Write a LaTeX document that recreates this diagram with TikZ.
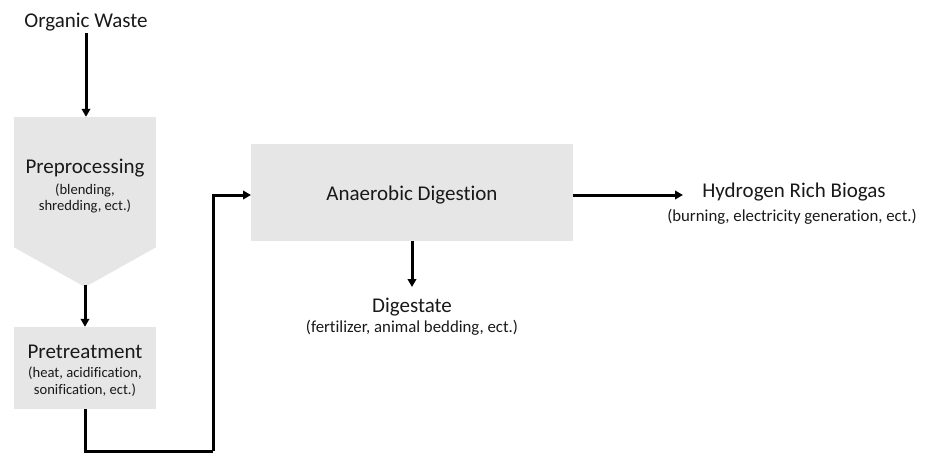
\documentclass[tikz,border=0pt]{standalone}
\usepackage{fontspec}
\setmainfont{Carlito}[Ligatures=NoCommon]
\usetikzlibrary{arrows.meta}
\definecolor{boxgray}{RGB}{230,230,230}
\definecolor{txt}{RGB}{25,25,25}
\begin{document}
\begin{tikzpicture}[x=1pt,y=-1pt,
  conn/.style={line width=3pt,draw=black,-{Triangle[length=8pt,width=8.5pt]}},
  plain/.style={line width=3pt,draw=black},
  boxbg/.style={fill=boxgray,draw=none,inner sep=0pt},
  title/.style={anchor=base,inner sep=0pt,text=txt,font=\fontsize{21}{24}\selectfont},
  sub/.style={anchor=base,inner sep=0pt,text=txt,font=\fontsize{16.8}{19}\selectfont},
  smallsub/.style={anchor=base,inner sep=0pt,text=txt,font=\fontsize{14.6}{17}\selectfont}]
\useasboundingbox (0,0) rectangle (930,453);
% shapes
\node[boxbg,minimum width=142pt,minimum height=130pt] (prebox) at (85,182) {};
\fill[boxgray] (prebox.south west) -- (85,287) -- (prebox.south east) -- cycle;
\coordinate (pretip) at (85,287);
\node[boxbg,minimum width=142pt,minimum height=82pt] (pret) at (85,368) {};
\node[boxbg,minimum width=322pt,minimum height=97pt] (ad) at (412,192.5) {};
% texts
\node[title] (ow) at (86,27) {Organic Waste};
\node[title] (pretitle) at (85,173) {Preprocessing};
\node[smallsub] (presub1) at (85,194) {(blending,};
\node[smallsub] (presub2) at (85,210) {shredding, ect.)};
\node[title] (pttitle) at (85,358) {Pretreatment};
\node[smallsub] (ptsub1) at (85,377) {(heat, acidification,};
\node[smallsub] (ptsub2) at (85,394) {sonification, ect.)};
\node[title] (adtitle) at (412,200) {Anaerobic Digestion};
\node[title] (dg) at (412,312) {Digestate};
\node[sub] (dgsub) at (412,332) {(fertilizer, animal bedding, ect.)};
\node[title] (hb) at (794,197) {Hydrogen Rich Biogas};
\node[sub] (hbsub) at (792,221) {(burning, electricity generation, ect.)};
% connector points
\coordinate (owbot) at (86,33);
\coordinate (c1) at (213,451);
\coordinate (adin) at (251,195);
\coordinate (adout) at (573,195);
\coordinate (hbin) at (683,195);
\coordinate (dgtop) at (412,287);
% connectors
\draw[conn] (owbot) -- (prebox.north -| owbot);
\draw[conn] ([yshift=2pt]pretip) -- (pret.north);
\draw[plain] (pret.south) |- (c1);
\draw[conn] (c1) |- (adin);
\draw[conn] (adout) -- (hbin);
\draw[conn] (ad.south) -- (dgtop);
\end{tikzpicture}
\end{document}
